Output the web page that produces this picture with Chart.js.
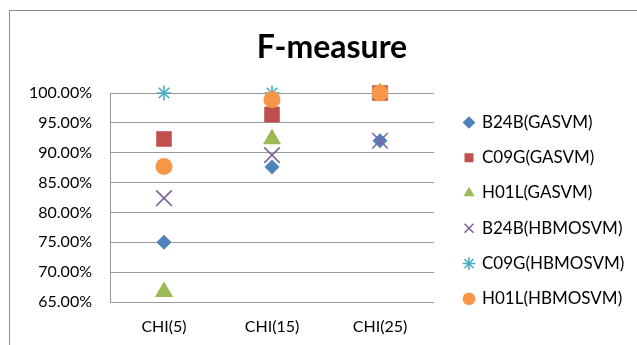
<!DOCTYPE html>
<html>
<head>
<meta charset="utf-8">
<script src="https://cdn.jsdelivr.net/npm/chart.js@4.4.1/dist/chart.umd.min.js"></script>
<style>
  html, body { margin: 0; padding: 0; background: #fff; overflow: hidden; }
  #frame {
    position: absolute; left: 9px; top: 10px; width: 700px; height: 400px;
    border-left: 1px solid #8c8c8c; border-top: 1px solid #8c8c8c;
  }
  #chart { position: absolute; left: 0; top: 0; }
</style>
</head>
<body>
<div id="frame"><canvas id="chart" width="634" height="334"></canvas></div>
<script>
// categories on the x axis
const categories = ['CHI(5)', 'CHI(15)', 'CHI(25)'];

// F-measure values in percent, one array per series
const b24bGasvm   = [75.0, 87.6, 92.0];
const c09gGasvm   = [92.3, 96.4, 100.0];
const h01lGasvm   = [66.7, 92.3, 100.0];
const b24bHbmosvm = [82.4, 89.6, 92.0];
const c09gHbmosvm = [100.0, 100.0, 100.0];
const h01lHbmosvm = [87.7, 98.9, 100.0];

const seriesNames = ['B24B(GASVM)', 'C09G(GASVM)', 'H01L(GASVM)',
                     'B24B(HBMOSVM)', 'C09G(HBMOSVM)', 'H01L(HBMOSVM)'];
const seriesValues = [b24bGasvm, c09gGasvm, h01lGasvm, b24bHbmosvm, c09gHbmosvm, h01lHbmosvm];

// y axis ticks
const yMin = 65, yMax = 100, yStep = 5;

const colors  = ['#4f81bd', '#c0504d', '#9bbb59', '#8064a2', '#4bacc6', '#f79646'];
const styles  = ['rectRot', 'rect', 'triangle', 'crossRot', 'star', 'circle'];
const radii   = [7.5, 11, 10.5, 11, 7.5, 8.5];

const font = "Lato";

// fixed legend box width, and the legend drawn a bit off its box
const legendWidth = 210;
const legendShiftX = 12.25;
const legendShiftY = -10.5;
const legendLayout = {
  id: 'legendLayout',
  afterInit(chart) {
    const legend = chart.legend;
    const fit = legend.fit;
    legend.fit = function () {
      fit.call(this);
      this.width = legendWidth;
    };
  },
  afterLayout(chart) {
    const lg = chart.legend;
    lg.left += legendShiftX;
    lg.right += legendShiftX;
    lg.top += legendShiftY;
    lg.bottom += legendShiftY;
  }
};

function draw() {
  const datasets = seriesNames.map((name, i) => ({
    label: name,
    data: seriesValues[i],
    showLine: false,
    pointStyle: styles[i],
    pointRadius: radii[i],
    pointHoverRadius: radii[i],
    pointBackgroundColor: colors[i],
    pointBorderColor: colors[i],
    pointBorderWidth: (styles[i] === 'crossRot' || styles[i] === 'star') ? 1.6 : 0,
    backgroundColor: colors[i],
    borderColor: colors[i],
    order: seriesNames.length - i,
    clip: false
  }));

  new Chart(document.getElementById('chart'), {
    type: 'line',
    data: { labels: categories, datasets: datasets },
    plugins: [legendLayout],
    options: {
      responsive: false,
      animation: false,
      layout: { padding: { left: 10, right: 0, top: 0, bottom: 9 } },
      plugins: {
        title: {
          display: true,
          text: 'F-measure',
          color: '#000',
          font: { family: font, size: 32, weight: 'bold' },
          padding: { top: 17, bottom: 26.6 }
        },
        legend: {
          position: 'right',
          align: 'end',
          labels: {
            usePointStyle: true,
            boxHeight: 9,
            boxWidth: 9,
            padding: 18.25,
            color: '#000',
            font: { family: font, size: 17 },
            sort: (a, b) => a.datasetIndex - b.datasetIndex
          }
        },
        tooltip: { enabled: false }
      },
      scales: {
        x: {
          offset: true,
          grid: { display: false, drawTicks: false },
          border: { display: false },
          ticks: { color: '#000', font: { family: font, size: 16 }, padding: 15 },
          afterFit: (s) => { s.height = 34; }
        },
        y: {
          min: yMin,
          max: yMax,
          grid: { color: '#999', drawTicks: false },
          border: { color: '#999' },
          ticks: {
            stepSize: yStep,
            padding: 18,
            color: '#000',
            font: { family: font, size: 16 },
            callback: (v) => v.toFixed(2) + '%'
          },
          afterFit: (s) => { s.width = 90; }
        }
      }
    }
  });
}

Promise.all([
  document.fonts.load('16px Lato'),
  document.fonts.load('17px Lato'),
  document.fonts.load('bold 32px Lato')
]).then(draw, draw);
</script>
</body>
</html>
